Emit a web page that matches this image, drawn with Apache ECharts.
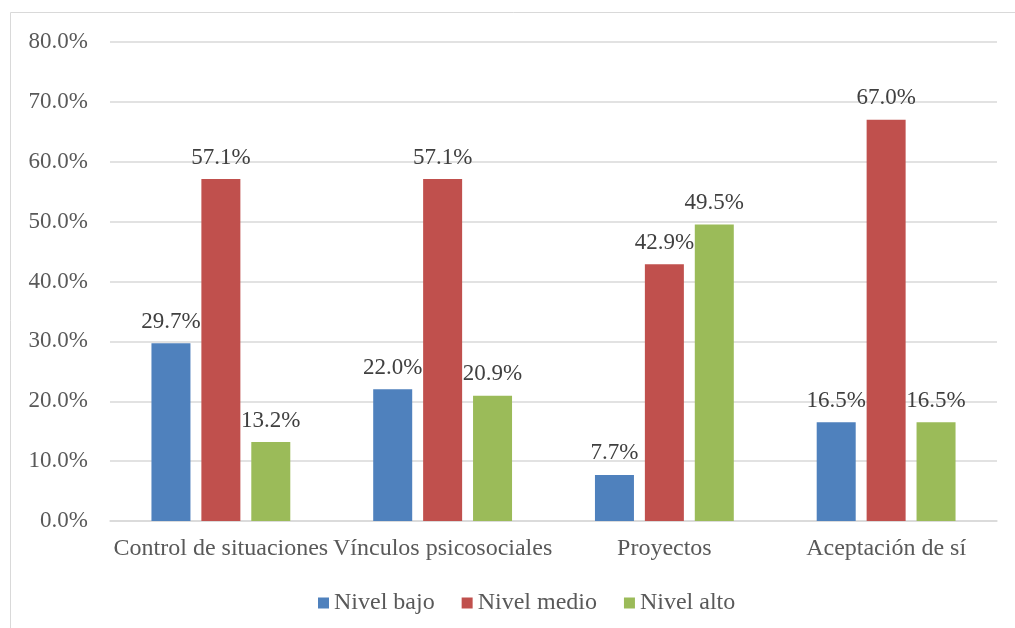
<!DOCTYPE html>
<html>
<head>
<meta charset="utf-8">
<script src="https://cdn.jsdelivr.net/npm/echarts@6/dist/echarts.min.js"></script>
<style>
html, body { margin: 0; padding: 0; background: #fff; }
#chart { width: 1015px; height: 628px; }
</style>
</head>
<body>
<div id="chart"></div>
<script>
var categories = ['Control de situaciones', 'Vínculos psicosociales', 'Proyectos', 'Aceptación de sí'];
var nivelBajo = [29.7, 22.0, 7.7, 16.5];
var nivelMedio = [57.1, 57.1, 42.9, 67.0];
var nivelAlto = [13.2, 20.9, 49.5, 16.5];

var serif = '"Liberation Serif", "Times New Roman", serif';
var txt = '#595959';

function makeSeries(name, data, color) {
    return {
        name: name,
        type: 'bar',
        data: data,
        barWidth: 39,
        barGap: '28%',
        itemStyle: { color: color },
        label: {
            show: true,
            position: 'top',
            distance: 10,
            color: '#404040',
            fontFamily: serif,
            fontSize: 23,
            formatter: function (p) { return p.value.toFixed(1) + '%'; }
        }
    };
}

var chart = echarts.init(document.getElementById('chart'));
chart.setOption({
    animation: false,
    graphic: [{
        type: 'rect',
        shape: { x: 10.5, y: 12.5, width: 1020, height: 640 },
        style: { fill: 'none', stroke: '#d9d9d9', lineWidth: 1 },
        z: -1
    }],
    grid: { left: 110, right: 18, top: 42, bottom: 107 },
    legend: {
        top: 586,
        left: 313,
        itemWidth: 11,
        itemHeight: 11,
        itemGap: 27,
        icon: 'rect',
        textStyle: { color: txt, fontFamily: serif, fontSize: 24 },
        data: ['Nivel bajo', 'Nivel medio', 'Nivel alto']
    },
    xAxis: {
        type: 'category',
        data: categories,
        axisLine: { lineStyle: { color: '#d9d9d9', width: 1.5 } },
        axisTick: { show: false },
        axisLabel: { color: txt, fontFamily: serif, fontSize: 24, margin: 16, interval: 0 }
    },
    yAxis: {
        type: 'value',
        min: 0,
        max: 80,
        interval: 10,
        axisLine: { show: false },
        axisTick: { show: false },
        splitLine: { lineStyle: { color: '#d9d9d9', width: 1.5 } },
        axisLabel: {
            color: txt, fontFamily: serif, fontSize: 23, margin: 22,
            formatter: function (v) { return v.toFixed(1) + '%'; }
        }
    },
    series: [
        makeSeries('Nivel bajo', nivelBajo, '#4f81bd'),
        makeSeries('Nivel medio', nivelMedio, '#c0504d'),
        makeSeries('Nivel alto', nivelAlto, '#9bbb59')
    ]
});
</script>
</body>
</html>
